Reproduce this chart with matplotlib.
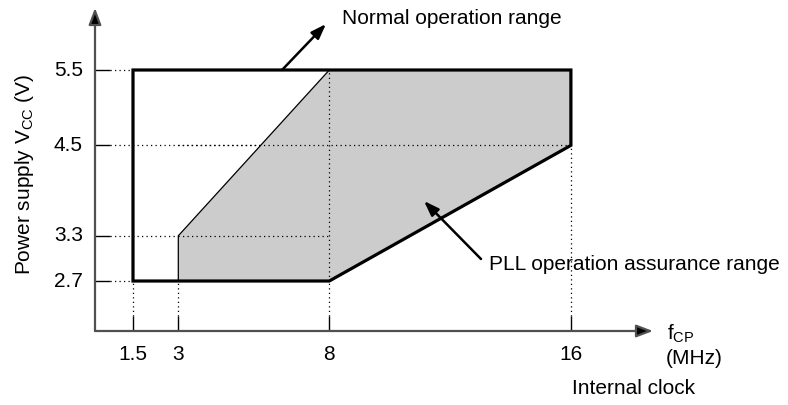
import matplotlib
matplotlib.use("Agg")
import matplotlib.pyplot as plt
from matplotlib.patches import Polygon

plt.rcParams['font.family'] = ['Liberation Sans', 'DejaVu Sans']

# Frequency (MHz) and supply voltage (V) marks
freq_ticks = [1.5, 3, 8, 16]
freq_labels = ["1.5", "3", "8", "16"]
volt_ticks = [2.7, 3.3, 4.5, 5.5]
volt_labels = ["2.7", "3.3", "4.5", "5.5"]

# Normal operation range outline (f, Vcc)
normal_f = [1.5, 1.5, 16, 16, 8]
normal_v = [2.7, 5.5, 5.5, 4.5, 2.7]

# PLL operation assurance range (f, Vcc)
pll_f = [3, 3, 8, 16, 16, 8]
pll_v = [2.7, 3.3, 5.5, 5.5, 4.5, 2.7]

# Guide-line extents: each tick's dotted line runs to this value
freq_guide_to = [2.7, 2.7, 5.5, 4.5]
volt_guide_to = [1.5, 8, 16, 1.5]

W, H = 788, 405
FS = 15
fig = plt.figure(figsize=(W / 100, H / 100), dpi=100)
ax = fig.add_axes([0, 0, 1, 1])

# pixel -> data helpers for a linear frame
sx = 30.2
sy = 75.36
def X(px):
    return 1.5 + (px - 133) / sx
def Y(py):
    return 5.5 - (py - 70) / sy

ax.set_xlim(X(0), X(W))
ax.set_ylim(Y(H), Y(0))
ax.axis("off")

x0, y0 = X(95), Y(331)
axis_col = "#505050"

# axes with arrowheads
ax.annotate("", xy=(X(653), y0), xytext=(x0, y0),
            arrowprops=dict(arrowstyle="-|>,head_length=1.0,head_width=0.38",
                            color=axis_col, lw=1.6, fc="black", ec=axis_col,
                            shrinkA=0, shrinkB=0))
ax.annotate("", xy=(x0, Y(8)), xytext=(x0, y0),
            arrowprops=dict(arrowstyle="-|>,head_length=1.0,head_width=0.38",
                            color=axis_col, lw=1.6, fc="black", ec=axis_col,
                            shrinkA=0, shrinkB=0))

tick_y = Y(316)
tick_x = X(110)
dot = (0, (1, 2.6))

for f, lab, top in zip(freq_ticks, freq_labels, freq_guide_to):
    ax.plot([f, f], [y0, tick_y], color="black", lw=1.0, solid_capstyle="butt")
    ax.plot([f, f], [tick_y, top], color="black", lw=0.9, linestyle=dot)
    ax.text(f, Y(354), lab, ha="center", va="center", fontsize=FS)

for v, lab, right in zip(volt_ticks, volt_labels, volt_guide_to):
    ax.plot([x0, tick_x], [v, v], color="black", lw=1.0, solid_capstyle="butt")
    ax.plot([tick_x, right], [v, v], color="black", lw=0.9, linestyle=dot)
    ax.text(X(83), v, lab, ha="right", va="center", fontsize=FS)

# PLL region (grey fill, thin edge)
pll = Polygon(list(zip(pll_f, pll_v)), closed=True, facecolor="#cccccc",
              edgecolor="black", lw=0.9, zorder=2)
ax.add_patch(pll)
# re-draw the internal dotted guides on top of the fill
ax.plot([8, 8], [2.7, 5.5], color="black", lw=0.9, linestyle=dot, zorder=3)
ax.plot([3, 16], [4.5, 4.5], color="black", lw=0.9, linestyle=dot, zorder=3)
ax.plot([3, 8], [3.3, 3.3], color="black", lw=0.9, linestyle=dot, zorder=3)

# Normal range outline (thick)
normal = Polygon(list(zip(normal_f, normal_v)), closed=True, fill=False,
                 edgecolor="black", lw=2.3, joinstyle="miter", zorder=4)
ax.add_patch(normal)

# callouts
arrow_kw = dict(arrowstyle="-|>,head_length=0.9,head_width=0.32",
                color="black", lw=1.8, shrinkA=0, shrinkB=0)
ax.annotate("", xy=(X(326), Y(24)), xytext=(X(282), 5.5),
            arrowprops=arrow_kw, zorder=5)
ax.text(X(342), Y(18), "Normal operation range", ha="left", va="center",
        fontsize=FS)
ax.annotate("", xy=(X(424), Y(201)), xytext=(X(481), Y(259)),
            arrowprops=arrow_kw, zorder=5)
ax.text(X(489), Y(264), "PLL operation assurance range", ha="left",
        va="center", fontsize=FS)

# axis titles
ax.text(X(24), Y(174), r"Power supply V$\mathregular{_{CC}}$ (V)",
        rotation=90, ha="center", va="center", fontsize=FS)
ax.text(X(667), Y(334), r"f$\mathregular{_{CP}}$", ha="left", va="center",
        fontsize=FS)
ax.text(X(666), Y(359), "(MHz)", ha="left", va="center", fontsize=FS)
ax.text(X(572), Y(389), "Internal clock", ha="left", va="center",
        fontsize=FS)

fig.savefig("out.png", dpi=100)
